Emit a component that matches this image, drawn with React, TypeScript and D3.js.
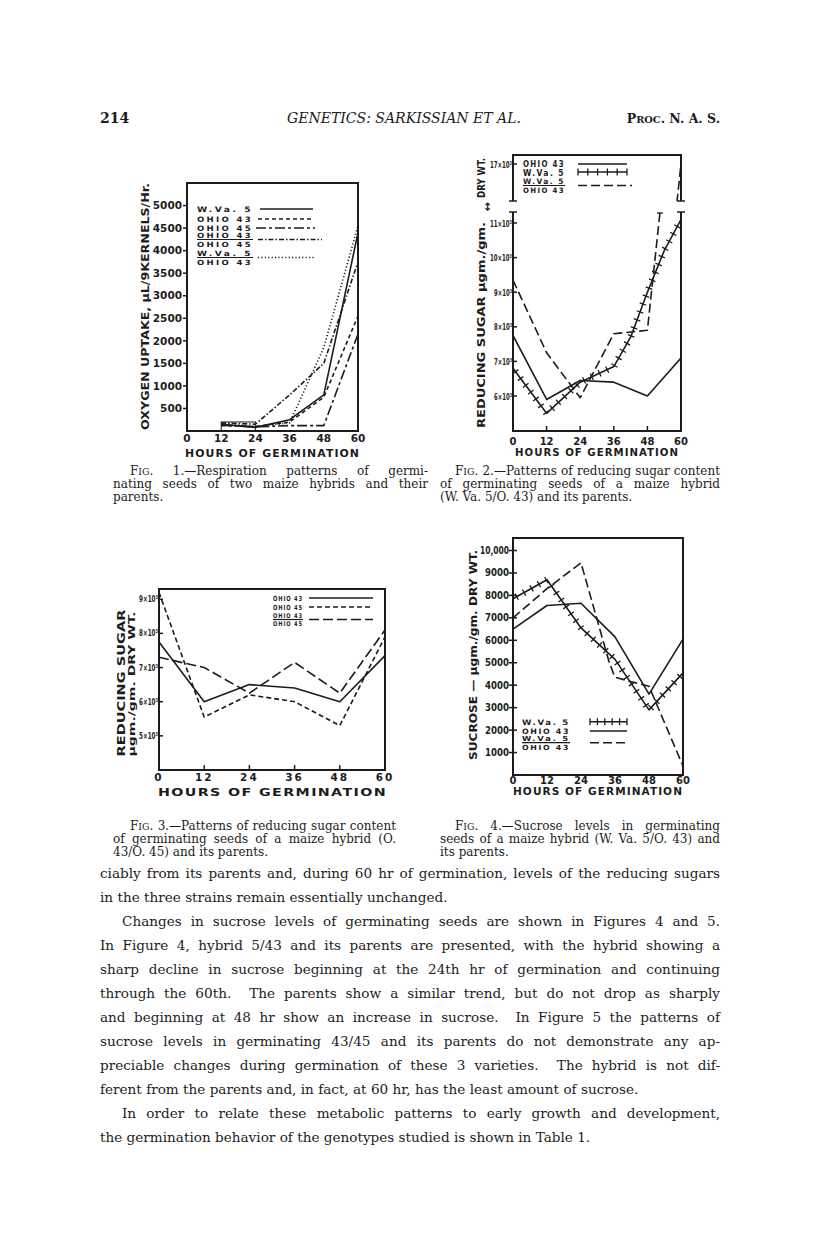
import * as d3 from "d3";
import React from "react";

// ---- data ----
const hours = [0, 12, 24, 36, 48, 60];
const hoursFrom12 = [12, 24, 36, 48, 60];
const hourTicks = [0, 12, 24, 36, 48, 60];

// Fig. 1 — oxygen uptake, µL / 9 kernels / hr
const f1WVa5 = [150, 80, 250, 800, 4400];
const f1Ohio43 = [120, 100, 200, 750, 2550];
const f1Ohio45 = [130, 90, 120, 120, 2150];
const f1Ohio43x45 = [180, 150, 800, 1500, 3750];
const f1WVa5x43 = [160, 100, 180, 1850, 4550];
const f1Ticks = [500, 1000, 1500, 2000, 2500, 3000, 3500, 4000, 4500, 5000];

// Fig. 2 — reducing sugar, W.Va. 5 / Ohio 43
const f2Ohio43 = [7750, 5900, 6450, 6400, 6000, 7100];
const f2WVa5Hours = [0, 12, 24, 36, 42, 48, 54, 60];
const f2WVa5 = [6800, 5500, 6400, 6850, 7700, 9000, 10200, 11100];
const f2Hybrid = [9350, 7250, 5950, 7800, 7900, 17000];
const f2Ticks = [6, 7, 8, 9, 10, 11];
const f2TopTick = 17;

// Fig. 3 — reducing sugar, Ohio 43 / Ohio 45
const f3Ohio43 = [7750, 6000, 6500, 6400, 6000, 7350];
const f3Ohio45 = [9200, 5550, 6200, 6000, 5300, 7900];
const f3Hybrid = [7300, 7000, 6250, 7150, 6250, 8100];
const f3Ticks = [5, 6, 7, 8, 9];

// Fig. 4 — sucrose
const f4WVa5 = [7850, 8700, 6550, 5150, 2900, 4550];
const f4Ohio43 = [6500, 7550, 7650, 6150, 3600, 6050];
const f4HybridHours = [0, 12, 24, 34, 36, 48, 60];
const f4Hybrid = [7000, 8300, 9450, 5000, 4350, 3950, 400];
const f4Ticks = [1000, 2000, 3000, 4000, 5000, 6000, 7000, 8000, 9000, 10000];

const INK = "#1c1c1c";
const SANS = "'DejaVu Sans', sans-serif";
const SERIF = "'DejaVu Serif', serif";

const DASH_SHORT = "4 3";
const DASH_LONG = "9 4";
const DASH_LONG_SHORT = "10 3 3 3";
const DASH_DOT = "5 2 1.5 2";
const DOTTED = "1.2 2.2";

type Pt = [number, number];

function pts(xs: number[], ys: number[], sx: d3.ScaleLinear<number, number>, sy: d3.ScaleLinear<number, number>): Pt[] {
  return xs.map((h, i) => [sx(h), sy(ys[i])] as Pt);
}

const lineGen = d3.line<Pt>();

let measureCtx: CanvasRenderingContext2D | null = null;
function textWidth(s: string, size: number) {
  if (!measureCtx) measureCtx = document.createElement("canvas").getContext("2d");
  if (!measureCtx) return s.length * size * 0.55;
  measureCtx.font = `${size}px 'DejaVu Serif'`;
  return measureCtx.measureText(s).width;
}

function crossMarks(p: Pt[], step: number, half: number) {
  const marks: string[] = [];
  let carry = step / 2;
  for (let i = 0; i < p.length - 1; i++) {
    const [x0, y0] = p[i];
    const [x1, y1] = p[i + 1];
    const len = Math.hypot(x1 - x0, y1 - y0);
    const nx = -(y1 - y0) / len;
    const ny = (x1 - x0) / len;
    let d = carry;
    while (d <= len) {
      const t = d / len;
      const cx = x0 + (x1 - x0) * t;
      const cy = y0 + (y1 - y0) * t;
      marks.push(`M${cx - nx * half},${cy - ny * half}L${cx + nx * half},${cy + ny * half}`);
      d += step;
    }
    carry = d - len;
  }
  return marks.join("");
}

function Series({ p, dash, crossed, clip }: { p: Pt[]; dash?: string; crossed?: boolean; clip?: string }) {
  return (
    <g clipPath={clip ? `url(#${clip})` : undefined}>
      <path d={lineGen(p) || ""} fill="none" stroke={INK} strokeWidth={1.6} strokeDasharray={dash} strokeLinejoin="round" />
      {crossed && <path d={crossMarks(p, 8.5, 3.5)} stroke={INK} strokeWidth={1.3} fill="none" />}
    </g>
  );
}

function Sample({ x1, x2, y, dash, crossed }: { x1: number; x2: number; y: number; dash?: string; crossed?: boolean }) {
  const ticks: number[] = [];
  if (crossed) for (let x = x1; x <= x2 + 0.1; x += (x2 - x1) / 5) ticks.push(x);
  return (
    <g>
      <line x1={x1} x2={x2} y1={y} y2={y} stroke={INK} strokeWidth={1.6} strokeDasharray={dash} />
      {ticks.map((x, i) => (
        <line key={i} x1={x} x2={x} y1={y - 3.5} y2={y + 3.5} stroke={INK} strokeWidth={1.3} />
      ))}
    </g>
  );
}

function Label({ x, y, text, fs, ls = 1, len }: { x: number; y: number; text: string; fs: number; ls?: number; len?: number }) {
  return (
    <text x={x} y={y} fontFamily={SANS} fontWeight={700} fontSize={fs} letterSpacing={ls} fill={INK}
      textLength={len} lengthAdjust={len ? "spacingAndGlyphs" : undefined}>
      {text}
    </text>
  );
}

function Fraction({ x, y, top, bottom, fs, ls, len }: { x: number; y: number; top: string; bottom: string; fs: number; ls: number; len: number }) {
  return (
    <g>
      <Label x={x} y={y - 1.5} text={top} fs={fs} ls={ls} len={len} />
      <line x1={x} x2={x + len} y1={y} y2={y} stroke={INK} strokeWidth={1.2} />
      <Label x={x} y={y + fs} text={bottom} fs={fs} ls={ls} len={len} />
    </g>
  );
}

function Rotated({ x, y, text, fs, len }: { x: number; y: number; text: string; fs: number; len: number }) {
  return (
    <text transform={`translate(${x},${y}) rotate(-90)`} textAnchor="middle" fontFamily={SANS} fontWeight={700}
      fontSize={fs} fill={INK} textLength={len} lengthAdjust="spacingAndGlyphs" dominantBaseline="central">
      {text}
    </text>
  );
}

function Pow({ x, y, base, fs, len }: { x: number; y: number; base: number; fs: number; len: number }) {
  return (
    <text x={x} y={y} textAnchor="end" fontFamily={SANS} fontWeight={700} fontSize={fs} fill={INK}
      textLength={len} lengthAdjust="spacingAndGlyphs">
      {`${base}×10³`}
    </text>
  );
}

function Figure1() {
  const x = d3.scaleLinear().domain([0, 60]).range([187, 358]);
  const y = d3.scaleLinear().domain([0, 5500]).range([431, 183]);
  return (
    <g>
      <rect x={187} y={183} width={171} height={248} fill="none" stroke={INK} strokeWidth={2} />
      <rect x={x(12)} y={y(200)} width={x(24) - x(12)} height={431 - y(200)} fill="none" stroke={INK} strokeWidth={1} />
      {f1Ticks.map((t) => (
        <g key={t}>
          <line x1={183} x2={187} y1={y(t)} y2={y(t)} stroke={INK} strokeWidth={1.5} />
          <text x={182} y={y(t) + 3.7} textAnchor="end" fontFamily={SANS} fontWeight={700} fontSize={10.5} fill={INK}>{t}</text>
        </g>
      ))}
      {hourTicks.map((h) => (
        <text key={h} x={x(h)} y={442} textAnchor="middle" fontFamily={SANS} fontWeight={700} fontSize={10.5} fill={INK}>{h}</text>
      ))}
      <Label x={185} y={457} text="HOURS OF GERMINATION" fs={10.5} len={175} />
      <Rotated x={145} y={306.5} text="OXYGEN UPTAKE, µL/9KERNELS/Hr." fs={10.5} len={247} />

      <Series p={pts(hoursFrom12, f1WVa5, x, y)} />
      <Series p={pts(hoursFrom12, f1Ohio43, x, y)} dash={DASH_SHORT} />
      <Series p={pts(hoursFrom12, f1Ohio45, x, y)} dash={DASH_LONG_SHORT} />
      <Series p={pts(hoursFrom12, f1Ohio43x45, x, y)} dash={DASH_DOT} />
      <Series p={pts(hoursFrom12, f1WVa5x43, x, y)} dash={DOTTED} />

      <Label x={197} y={211.5} text="W.Va.  5" fs={7.5} ls={2} len={56} />
      <Sample x1={260} x2={313} y={209} />
      <Label x={197} y={221.5} text="OHIO 43" fs={7.5} ls={2} len={56} />
      <Sample x1={258} x2={314} y={219} dash={DASH_SHORT} />
      <Label x={197} y={230.5} text="OHIO 45" fs={7.5} ls={2} len={56} />
      <Sample x1={256} x2={315} y={228} dash={DASH_LONG_SHORT} />
      <Fraction x={197} y={239.5} top="OHIO 43" bottom="OHIO 45" fs={7.2} ls={2} len={56} />
      <Sample x1={258} x2={322} y={239.5} dash={DASH_DOT} />
      <Fraction x={197} y={257.5} top="W.Va.  5" bottom="OHIO 43" fs={7.2} ls={2} len={56} />
      <Sample x1={258} x2={315} y={257.5} dash={DOTTED} />
    </g>
  );
}

function Figure2() {
  const bottom = 431;
  const x = d3.scaleLinear().domain([0, 60]).range([513, 681]);
  const yLow = d3.scaleLinear().domain([6000, 11000]).range([396, 223]);
  const yTop = d3.scaleLinear().domain([16000, 17000]).range([164 + 34.6, 164]);
  const exitX = x(48 + (12 * (yLow.invert(212) - 7900)) / (17000 - 7900));
  return (
    <g>
      <defs>
        <clipPath id="f2low"><rect x={513} y={212} width={168} height={bottom - 212} /></clipPath>
        <clipPath id="f2top"><rect x={513} y={155} width={168} height={46} /></clipPath>
      </defs>
      {/* upper broken panel */}
      <path d="M513,201V155H681V201" fill="none" stroke={INK} strokeWidth={2} />
      <line x1={509} x2={517} y1={201} y2={201} stroke={INK} strokeWidth={1.5} />
      <line x1={677} x2={685} y1={201} y2={201} stroke={INK} strokeWidth={1.5} />
      {/* lower panel */}
      <path d={`M513,212V${bottom}H681V212`} fill="none" stroke={INK} strokeWidth={2} />
      <line x1={509} x2={517} y1={212} y2={212} stroke={INK} strokeWidth={1.5} />
      <line x1={677} x2={685} y1={212} y2={212} stroke={INK} strokeWidth={1.5} />

      <line x1={513} x2={517} y1={yTop(f2TopTick * 1000)} y2={yTop(f2TopTick * 1000)} stroke={INK} strokeWidth={1.5} />
      <Pow x={512} y={yTop(f2TopTick * 1000) + 3.5} base={f2TopTick} fs={9} len={22} />
      {f2Ticks.map((t) => (
        <g key={t}>
          <line x1={513} x2={517} y1={yLow(t * 1000)} y2={yLow(t * 1000)} stroke={INK} strokeWidth={1.5} />
          <Pow x={512} y={yLow(t * 1000) + 3.5} base={t} fs={9} len={t >= 10 ? 22 : 18} />
        </g>
      ))}
      {hourTicks.map((h) => (
        <g key={h}>
          {h > 0 && h < 60 && <line x1={x(h)} x2={x(h)} y1={bottom} y2={bottom - 5} stroke={INK} strokeWidth={1.5} />}
          <text x={x(h)} y={445} textAnchor="middle" fontFamily={SANS} fontWeight={700} fontSize={10} fill={INK}>{h}</text>
        </g>
      ))}
      <Label x={515} y={456} text="HOURS OF GERMINATION" fs={10} len={164} />
      <Rotated x={481} y={325} text="REDUCING  SUGAR   µgm./gm." fs={10} len={206} />
      <Rotated x={481} y={178} text="DRY  WT." fs={10} len={40} />
      <text transform="translate(487,207) rotate(-90)" textAnchor="middle" dominantBaseline="central" fontFamily={SANS} fontSize={11} fontWeight={700} fill={INK}>↔</text>

      <Series p={pts(hours, f2Ohio43, x, yLow)} clip="f2low" />
      <Series p={pts(f2WVa5Hours, f2WVa5, x, yLow)} crossed clip="f2low" />
      <Series p={pts(hours, f2Hybrid, x, yLow)} dash={DASH_LONG} clip="f2low" />
      <Series p={pts(hours, f2Hybrid, x, yTop)} dash={DASH_LONG} clip="f2top" />
      <line x1={exitX - 3} x2={exitX + 3} y1={213} y2={213} stroke={INK} strokeWidth={1.3} />

      <Label x={523} y={167} text="OHIO 43" fs={8} ls={1.5} len={42} />
      <Sample x1={578} x2={627} y={164} />
      <Label x={523} y={175.5} text="W.Va.   5" fs={8} ls={1.5} len={42} />
      <Sample x1={578} x2={627} y={172} crossed />
      <Fraction x={523} y={185.5} top="W.Va.   5" bottom="OHIO 43" fs={7.5} ls={1.5} len={42} />
      <Sample x1={578} x2={632} y={185.5} dash={DASH_LONG} />
    </g>
  );
}

function Figure3() {
  const x = d3.scaleLinear().domain([0, 60]).range([159, 385]);
  const y = d3.scaleLinear().domain([4000, 9300]).range([770, 589]);
  return (
    <g>
      <rect x={159} y={589} width={226} height={181} fill="none" stroke={INK} strokeWidth={2} />
      {f3Ticks.map((t) => (
        <g key={t}>
          <line x1={159} x2={163} y1={y(t * 1000)} y2={y(t * 1000)} stroke={INK} strokeWidth={1.5} />
          <Pow x={158} y={y(t * 1000) + 3} base={t} fs={8.5} len={19} />
        </g>
      ))}
      {hourTicks.map((h) => (
        <g key={h}>
          {h > 0 && h < 60 && <line x1={x(h)} x2={x(h)} y1={770} y2={765} stroke={INK} strokeWidth={1.5} />}
          <text x={x(h)} y={781} textAnchor="middle" fontFamily={SANS} fontWeight={700} fontSize={10.5} letterSpacing={2} fill={INK}>{h}</text>
        </g>
      ))}
      <Label x={158} y={796} text="HOURS  OF  GERMINATION" fs={10.5} len={229} />
      <Rotated x={121} y={683} text="REDUCING  SUGAR" fs={11} len={147} />
      <Rotated x={132} y={684} text="µgm./gm.  DRY  WT." fs={8} len={145} />

      <Series p={pts(hours, f3Ohio43, x, y)} />
      <Series p={pts(hours, f3Ohio45, x, y)} dash={"5 3"} />
      <Series p={pts(hours, f3Hybrid, x, y)} dash={"10 4"} />

      <Label x={273} y={600.5} text="OHIO 43" fs={7} ls={1.2} len={30} />
      <Sample x1={309} x2={373} y={598} />
      <Label x={273} y={609.5} text="OHIO 45" fs={7} ls={1.2} len={30} />
      <Sample x1={309} x2={373} y={607} dash={"5 3"} />
      <Fraction x={273} y={619.5} top="OHIO 43" bottom="OHIO 45" fs={6.5} ls={1.2} len={30} />
      <Sample x1={309} x2={373} y={619.5} dash={"10 4"} />
    </g>
  );
}

function Figure4() {
  const x = d3.scaleLinear().domain([0, 60]).range([513, 683]);
  const y = d3.scaleLinear().domain([0, 10000]).range([775, 550.5]);
  return (
    <g>
      <rect x={513} y={538} width={170} height={237} fill="none" stroke={INK} strokeWidth={2} />
      {f4Ticks.map((t) => (
        <g key={t}>
          <line x1={509} x2={517} y1={y(t)} y2={y(t)} stroke={INK} strokeWidth={1.5} />
          <text x={509} y={y(t) + 3.5} textAnchor="end" fontFamily={SANS} fontWeight={700} fontSize={10} fill={INK}
            textLength={t >= 10000 ? 29 : 24} lengthAdjust="spacingAndGlyphs">
            {t >= 10000 ? d3.format(",")(t) : t}
          </text>
        </g>
      ))}
      {hourTicks.map((h) => (
        <text key={h} x={x(h)} y={784} textAnchor="middle" fontFamily={SANS} fontWeight={700} fontSize={10} fill={INK}>{h}</text>
      ))}
      <Label x={513} y={795} text="HOURS OF GERMINATION" fs={10} len={170} />
      <Rotated x={473} y={655} text="SUCROSE — µgm./gm. DRY WT." fs={10} len={210} />

      <Series p={pts(hours, f4Ohio43, x, y)} />
      <Series p={pts(hours, f4WVa5, x, y)} crossed />
      <Series p={pts(f4HybridHours, f4Hybrid, x, y)} dash={DASH_LONG} />

      <Label x={522} y={724.5} text="W.Va.    5" fs={7.5} ls={1.5} len={48} />
      <Sample x1={590} x2={627} y={721.7} crossed />
      <Label x={522} y={734} text="OHIO 43" fs={7.5} ls={1.5} len={48} />
      <Sample x1={590} x2={627} y={731} />
      <Fraction x={522} y={742.7} top="W.Va.    5" bottom="OHIO 43" fs={7} ls={1.5} len={48} />
      <Sample x1={590} x2={627} y={742.7} dash={DASH_LONG} />
    </g>
  );
}

// caption lines: x, baseline, justified width (0 = ragged), text; first line of each caption opens with "FIG."
const captionLines: [number, number, number, string][] = [
  [130, 475, 298, "1.—Respiration patterns of germi-"],
  [113, 488, 315, "nating seeds of two maize hybrids and their"],
  [113, 501, 0, "parents."],
  [455, 475, 265, "2.—Patterns of reducing sugar content"],
  [440, 488, 280, "of germinating seeds of a maize hybrid"],
  [440, 501, 0, "(W. Va. 5/O. 43) and its parents."],
  [130, 830, 266, "3.—Patterns of reducing sugar content"],
  [113, 843, 283, "of germinating seeds of a maize hybrid (O."],
  [113, 856, 0, "43/O. 45) and its parents."],
  [455, 830, 265, "4.—Sucrose levels in germinating"],
  [440, 843, 280, "seeds of a maize hybrid (W. Va. 5/O. 43) and"],
  [440, 856, 0, "its parents."],
];

const bodyLines: [number, number, string][] = [
  [100, 620, "ciably from its parents and, during 60 hr of germination, levels of the reducing sugars"],
  [100, 0, "in the three strains remain essentially unchanged."],
  [122, 598, "Changes in sucrose levels of germinating seeds are shown in Figures 4 and 5."],
  [100, 620, "In Figure 4, hybrid 5/43 and its parents are presented, with the hybrid showing a"],
  [100, 620, "sharp decline in sucrose beginning at the 24th hr of germination and continuing"],
  [100, 620, "through the 60th.  The parents show a similar trend, but do not drop as sharply"],
  [100, 620, "and beginning at 48 hr show an increase in sucrose.  In Figure 5 the patterns of"],
  [100, 620, "sucrose levels in germinating 43/45 and its parents do not demonstrate any ap-"],
  [100, 620, "preciable changes during germination of these 3 varieties.  The hybrid is not dif-"],
  [100, 0, "ferent from the parents and, in fact, at 60 hr, has the least amount of sucrose."],
  [122, 598, "In order to relate these metabolic patterns to early growth and development,"],
  [100, 0, "the germination behavior of the genotypes studied is shown in Table 1."],
];

function JustLine({ x, y, w, s, fs, fig }: { x: number; y: number; w: number; s: string; fs: number; fig?: boolean }) {
  const small = fs * 0.78;
  const full = fig ? ". " + s : s;
  const natural = textWidth(full, fs) + (fig ? textWidth("F", fs) + textWidth("IG", small) : 0);
  const spaces = (full.match(/ /g) || []).length;
  const squeeze = w > 0 && natural > w;
  const ws = w && spaces && !squeeze ? (w - natural) / spaces : 0;
  return (
    <text x={x} y={y} fontSize={fs} wordSpacing={ws} style={{ whiteSpace: "pre" }}
      textLength={squeeze ? w : undefined} lengthAdjust={squeeze ? "spacingAndGlyphs" : undefined}>
      {fig && "F"}
      {fig && <tspan fontSize={small}>IG</tspan>}
      {full}
    </text>
  );
}

export default function App() {
  return (
    <svg width={816} height={1253} viewBox="0 0 816 1253" style={{ position: "absolute", left: 0, top: 0, background: "#fff" }}>
      <rect width={816} height={1253} fill="#fff" />
      <g fontFamily={SERIF} fill={INK}>
        <text x={100} y={123} fontSize={14} fontWeight={700}>214</text>
        <text x={404} y={123} fontSize={14} fontStyle="italic" textAnchor="middle" textLength={234} lengthAdjust="spacingAndGlyphs">
          GENETICS: SARKISSIAN ET AL.
        </text>
        <text x={720} y={123} fontSize={12.5} fontWeight={700} textAnchor="end">
          P<tspan fontSize={9.8}>ROC</tspan>. N. A. S.
        </text>
      </g>

      <Figure1 />
      <Figure2 />
      <Figure3 />
      <Figure4 />

      <g fontFamily={SERIF} fill={INK}>
        {captionLines.map(([x, y, w, s], i) => (
          <JustLine key={i} x={x} y={y} w={w} s={s} fs={12} fig={i % 3 === 0} />
        ))}
      </g>

      <g fontFamily={SERIF} fill={INK}>
        {bodyLines.map(([x, w, s], i) => (
          <JustLine key={i} x={x} y={878 + i * 24} w={w} s={s} fs={13.6} />
        ))}
      </g>
    </svg>
  );
}
